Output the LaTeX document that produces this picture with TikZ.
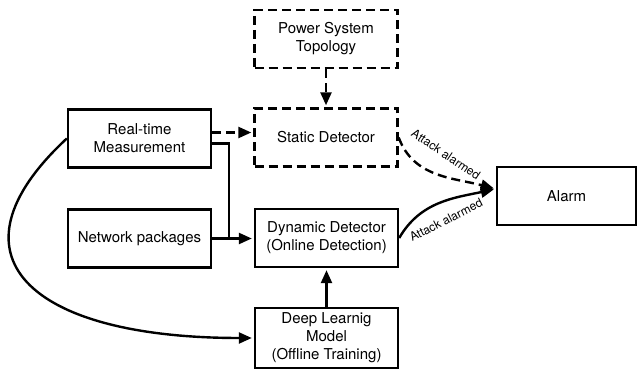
\documentclass[tikz,border=0pt]{standalone}
\usepackage{fontspec}
\setmainfont{TeX Gyre Heros}
\usetikzlibrary{arrows.meta, positioning}
\tikzset{
	box/.style={draw, line width=2.4pt, minimum width=143pt, minimum height=58pt,
		align=center, inner sep=2pt, font=\fontsize{15}{18}\selectfont},
	dashbox/.style={box, dash pattern=on 9pt off 5pt},
	flow/.style={line width=2.4pt, shorten >=2pt, -{Triangle[length=13pt,width=11pt]}},
	dashflow/.style={flow, dash pattern=on 9pt off 5pt},
	lbl/.style={font=\fontsize{12}{12}\selectfont, inner sep=1pt}
}

\begin{document}
\begin{tikzpicture}[x=1pt, y=1pt]
	\useasboundingbox (0,0) rectangle (637,374);
	% Inputs
	\node[box] (rtm) at (139.5,235.5) {Real-time\\Measurement};
	\node[box] (net) at (139.5,135.5) {Network packages};
	% Detectors
	\node[dashbox] (topo) at (326,335) {Power System\\Topology};
	\node[dashbox] (stat) at (326,236.5) {Static Detector};
	\node[box] (dyn) at (326.5,136) {Dynamic Detector\\(Online Detection)};
	\node[box, minimum height=60pt] (deep) at (326.5,36) {Deep Learnig\\Model\\(Offline Training)};
	\node[box, minimum width=139pt] (alarm) at (566.5,178) {Alarm};
	\coordinate (join) at (229,135.5);

	% Arrows
	\draw[dashflow] ([yshift=6pt]rtm.east) -- ([yshift=6pt]rtm.east -| stat.west);
	\draw[line width=2.4pt] ([yshift=-5pt]rtm.east) -| (join);
	\draw[flow] (net.east) -- (net.east -| dyn.west);
	\draw[dashflow] (topo) -- (stat);
	\draw[flow] (deep) -- (dyn);
	\draw[flow] (rtm.west) .. controls +(-126,-117) and +(-225,0) .. (deep.west);
	\draw[dashflow] (stat.east) to[out=-70, in=165] ([yshift=7pt]alarm.west);
	\draw[flow] (dyn.east) to[out=60, in=192] ([yshift=7pt]alarm.west);
	% Alarm labels
	\node[lbl, rotate=-34] (staticAlarm) at (446,219.5) {Attack alarmed};
	\node[lbl, rotate=27] (dynAlarm) at (446,154) {Attack alarmed};
\end{tikzpicture}
\end{document}
